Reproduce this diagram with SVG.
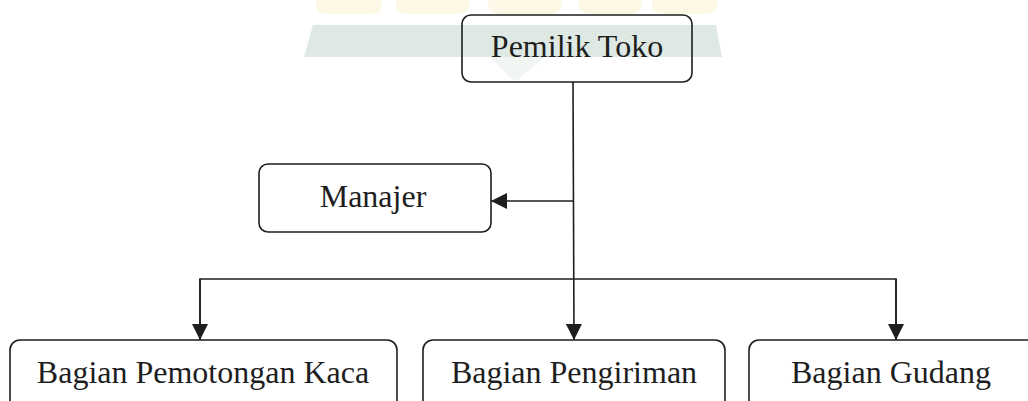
<svg xmlns="http://www.w3.org/2000/svg" width="1028" height="401" viewBox="0 0 1028 401">
  <style>
    .box { fill: none; stroke: #1e1e1e; stroke-width: 1.6; }
    .lbl { font-family: "Liberation Serif", "Times New Roman", serif; font-size: 32px; fill: #1e1e1e; text-anchor: middle; }
    .con { fill: none; stroke: #1e1e1e; stroke-width: 1.6; }
    .wy { fill: #fdf7e6; }
  </style>
  <defs>
    <marker id="arr" markerUnits="userSpaceOnUse" markerWidth="16" markerHeight="16" viewBox="0 0 16 16" refX="16" refY="8" orient="auto">
      <path d="M0,0 L16,8 L0,16 Z" fill="#1e1e1e"/>
    </marker>
  </defs>
  <rect width="1028" height="401" fill="#ffffff"/>
  <g id="watermark">
    <rect class="wy" x="316" y="-6" width="66" height="20" rx="8"/>
    <rect class="wy" x="396" y="-6" width="74" height="20" rx="10"/>
    <rect class="wy" x="488" y="-6" width="74" height="20" rx="10"/>
    <rect class="wy" x="578" y="-6" width="64" height="20" rx="10"/>
    <rect class="wy" x="652" y="-6" width="66" height="20" rx="10"/>
    <path d="M313,25 L716,25 L722,57 L304,57 Z" fill="#dde9e2"/>
    <path d="M490,57 L545,57 L515,82 Z" fill="#f1f6f3"/>
  </g>
  <g id="connectors">
    <line class="con" x1="573" y1="82" x2="574" y2="340" marker-end="url(#arr)"/>
    <line class="con" x1="573" y1="201" x2="491" y2="201" marker-end="url(#arr)"/>
    <polyline class="con" points="200,340 200,279 896,279 896,340"/>
    <line class="con" x1="200" y1="279" x2="200" y2="340" marker-end="url(#arr)"/>
    <line class="con" x1="896" y1="279" x2="896" y2="340" marker-end="url(#arr)"/>
  </g>
  <g id="pemilik">
    <rect class="box" x="462" y="15" width="230" height="67" rx="9"/>
    <text class="lbl" x="577" y="57">Pemilik Toko</text>
  </g>
  <g id="manajer">
    <rect class="box" x="259" y="164" width="232" height="68" rx="9"/>
    <text class="lbl" x="373" y="207">Manajer</text>
  </g>
  <g id="pemotongan">
    <rect class="box" x="10" y="340" width="387" height="90" rx="10"/>
    <text class="lbl" x="203" y="383">Bagian Pemotongan Kaca</text>
  </g>
  <g id="pengiriman">
    <rect class="box" x="423" y="340" width="302" height="90" rx="10"/>
    <text class="lbl" x="574" y="383">Bagian Pengiriman</text>
  </g>
  <g id="gudang">
    <rect class="box" x="749" y="340" width="320" height="90" rx="10"/>
    <text class="lbl" x="891" y="383">Bagian Gudang</text>
  </g>
</svg>
